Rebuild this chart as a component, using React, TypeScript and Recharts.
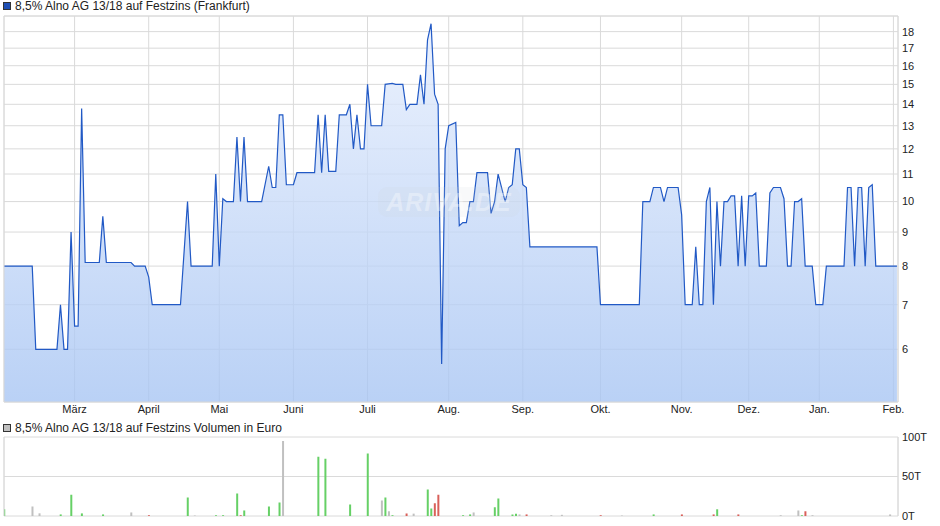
import React from "react";
import {
  Area,
  Bar,
  CartesianGrid,
  Cell,
  ComposedChart,
  ReferenceLine,
  XAxis,
  YAxis,
} from "recharts";

// trading-day index of each month start (Feb .. Feb)
const monthTicks = [20, 41, 61, 82, 103, 126, 147, 169, 192, 211, 231, 252];
const monthLabels = ["März", "April", "Mai", "Juni", "Juli", "Aug.", "Sep.", "Okt.", "Nov.", "Dez.", "Jan.", "Feb."];

const priceTicks = [6, 7, 8, 9, 10, 11, 12, 13, 14, 15, 16, 17, 18];

// price path: trading-day index and quote
const priceT = [
  0, 8, 9, 15, 16, 17, 18, 19, 20, 21, 22, 23, 27, 28, 29, 36, 37, 40, 41, 42, 50, 52, 53, 59, 60, 61, 62, 63, 65,
  66, 67, 68, 69, 73, 75, 76, 77, 78, 79, 80, 82, 83, 88, 89, 90, 91, 92, 94, 95, 97, 98, 99, 100, 101, 102, 103,
  104, 107, 108, 110, 111, 113, 114, 115, 117, 118, 119, 120, 121, 122, 123, 124, 125, 126, 128, 129, 130, 131,
  132, 133, 134, 137, 138, 139, 140, 142, 143, 144, 145, 146, 147, 148, 149, 168, 169, 180, 181, 183, 184, 186,
  187, 188, 191, 192, 193, 195, 196, 197, 198, 199, 200, 201, 202, 203, 204, 205, 206, 207, 208, 209, 210, 211,
  212, 213, 214, 216, 217, 218, 220, 221, 222, 223, 224, 225, 226, 227, 229, 230, 232, 233, 238, 239, 240, 241,
  242, 243, 244, 245, 246, 247, 253,
];
const priceV = [
  8.0, 8.0, 6.0, 6.0, 7.0, 6.0, 6.0, 9.0, 6.5, 6.5, 13.8, 8.1, 8.1, 9.5, 8.1, 8.1, 8.0, 8.0, 7.7, 7.0, 7.0, 10.0,
  8.0, 8.0, 11.0, 8.0, 10.1, 10.0, 10.0, 12.5, 10.0, 12.5, 10.0, 10.0, 11.3, 10.5, 10.5, 13.5, 13.5, 10.6, 10.6,
  11.05, 11.05, 13.5, 11.05, 13.5, 11.1, 11.1, 13.5, 13.5, 14.0, 12.0, 13.5, 12.0, 12.0, 15.0, 13.0, 13.0, 15.0,
  15.05, 15.0, 15.0, 13.75, 14.0, 14.0, 15.5, 14.0, 17.5, 18.5, 14.5, 14.0, 5.7, 12.0, 13.0, 13.15, 9.2, 9.3, 9.3,
  10.0, 10.0, 11.05, 11.05, 9.6, 10.0, 11.0, 10.0, 10.5, 10.6, 12.0, 12.0, 10.6, 10.5, 8.55, 8.55, 7.0, 7.0, 10.0,
  10.0, 10.5, 10.5, 10.0, 10.5, 10.5, 9.55, 7.0, 7.0, 8.55, 7.0, 7.0, 10.0, 10.5, 7.0, 10.0, 8.0, 10.0, 10.0, 10.2,
  10.2, 8.0, 10.2, 8.0, 10.2, 10.2, 10.3, 8.0, 8.0, 10.3, 10.5, 10.5, 10.1, 8.0, 8.0, 10.0, 10.0, 10.1, 8.0, 8.0,
  7.0, 7.0, 8.0, 8.0, 10.5, 10.5, 8.0, 10.5, 10.5, 8.0, 10.5, 10.6, 8.0, 8.0,
];

// volume in thousand euro; kind: 1 up, -1 down, 0 unchanged
const volT = [
  0, 8, 10, 16, 19, 22, 28, 36, 41, 52, 54, 60, 62, 66, 67, 68, 75, 78, 79, 89, 91, 98, 103, 107, 108, 109, 110,
  114, 116, 120, 121, 122, 123, 130, 132, 133, 139, 140, 144, 145, 146, 148, 155, 158, 169, 175, 184, 192, 201,
  202, 208, 220, 225, 226, 227, 229, 251,
];
const volV = [
  8.4, 12, 3.4, 2, 27, 3.3, 2, 4.5, 1, 23.5, 0.6, 1, 1, 28.5, 1, 7, 12, 17, 95, 75, 72.5, 14.5, 79, 19.5, 23.5, 6,
  1, 3.2, 3, 33.5, 9.5, 16, 27, 1, 2, 4.5, 11, 22, 2, 3, 2, 2, 1, 1.5, 1, 0.6, 2, 2, 2, 8.5, 2, 1, 7, 1, 6, 1, 2,
];
const volKind = [
  1, 0, 0, 1, 1, 1, 1, 0, -1, 1, 0, 1, 1, 1, -1, 1, 1, 1, 0, 1, 1, 1, 1, 0, 1, 0, 1, -1, 0, 1, 1, -1, -1, 1, 1, 0,
  1, 1, 1, 1, 0, -1, 0, 0, -1, 0, 1, -1, -1, 1, -1, 0, 0, 1, -1, 0, 0,
];
const volTicks = [0, 50, 100];

const priceData = priceT.map((t, i) => ({ t, price: priceV[i] }));
const volData = volT.map((t, i) => ({ t, vol: volV[i], kind: volKind[i] }));

const kindColor = (k: number) => (k > 0 ? "#66d066" : k < 0 ? "#d9605a" : "#c0c0c0");
const grid = "#dadada";
const tickStyle = { fill: "#222", fontSize: 11, fontFamily: "Liberation Sans, Arial, sans-serif" };
const xDomain: [number, number] = [0, 253.3];

function Legend({ color, text, top }: { color: string; text: string; top: number }) {
  return (
    <div
      style={{
        position: "absolute",
        left: 3,
        top,
        display: "flex",
        alignItems: "center",
        fontFamily: "Liberation Sans, Arial, sans-serif",
        fontSize: 12,
        color: "#222",
        whiteSpace: "nowrap",
      }}
    >
      <span
        style={{
          display: "inline-block",
          width: 6,
          height: 6,
          background: color,
          border: "1px solid #333",
          marginRight: 4,
        }}
      />
      {text}
    </div>
  );
}

export default function App() {
  return (
    <div style={{ position: "absolute", left: 0, top: 0, width: 940, height: 526, background: "#fff" }}>
      <Legend color="#1f4fb4" text="8,5% Alno AG 13/18 auf Festzins (Frankfurt)" top={-1} />
      <div style={{ position: "absolute", left: 0, top: 0 }}>
        <ComposedChart width={940} height={420} data={priceData} margin={{ top: 16, right: 0, left: 4, bottom: 0 }}>
          <defs>
            <linearGradient id="priceFill" x1="0" y1="0" x2="0" y2="1">
              <stop offset="0%" stopColor="#e6eefd" />
              <stop offset="100%" stopColor="#a6c4f3" />
            </linearGradient>
          </defs>
          <CartesianGrid stroke={grid} />
          <XAxis
            dataKey="t"
            type="number"
            domain={xDomain}
            allowDataOverflow
            ticks={monthTicks}
            interval={0}
            tickFormatter={(v) => monthLabels[monthTicks.indexOf(v)] ?? ""}
            tick={tickStyle}
            tickLine={false}
            tickSize={3}
            tickMargin={0}
            height={18}
            axisLine={{ stroke: grid }}
          />
          <YAxis
            orientation="right"
            scale="log"
            domain={[5, 19]}
            allowDataOverflow
            ticks={priceTicks}
            interval={0}
            tick={tickStyle}
            tickLine={false}
            tickSize={2}
            tickMargin={2}
            width={42}
            axisLine={{ stroke: grid }}
          />
          <ReferenceLine x={0} stroke={grid} />
          <ReferenceLine y={19} stroke={grid} />
          <Area
            type="linear"
            dataKey="price"
            stroke="#2159c5"
            strokeWidth={1.2}
            fill="url(#priceFill)"
            fillOpacity={0.78}
            baseValue={5}
            isAnimationActive={false}
          />
        </ComposedChart>
      </div>
      <div
        style={{
          position: "absolute",
          left: 378,
          top: 187,
          width: 142,
          height: 30,
          borderRadius: 9,
          background: "rgba(205,210,222,0.14)",
          color: "rgba(255,255,255,0.35)",
          fontFamily: "Liberation Sans, Arial, sans-serif",
          fontStyle: "italic",
          fontWeight: "bold",
          fontSize: 25,
          lineHeight: "30px",
          textAlign: "center",
          letterSpacing: 1,
        }}
      >
        ARIVA.DE
      </div>
      <Legend color="#c0c0c0" text="8,5% Alno AG 13/18 auf Festzins Volumen in Euro" top={421} />
      <div style={{ position: "absolute", left: 0, top: 420 }}>
        <ComposedChart width={940} height={106} data={volData} margin={{ top: 17, right: 0, left: 4, bottom: 0 }}>
          <CartesianGrid stroke={grid} />
          <XAxis
            dataKey="t"
            type="number"
            domain={xDomain}
            allowDataOverflow
            ticks={monthTicks}
            interval={0}
            tick={false}
            tickLine={false}
            axisLine={false}
            height={10}
          />
          <YAxis
            orientation="right"
            domain={[0, 100]}
            ticks={volTicks}
            interval={0}
            tickFormatter={(v) => `${v}T`}
            tick={tickStyle}
            tickLine={false}
            tickSize={2}
            tickMargin={2}
            width={42}
            axisLine={{ stroke: grid }}
          />
          <ReferenceLine x={0} stroke={grid} />
          <Bar dataKey="vol" barSize={2} isAnimationActive={false}>
            {volData.map((d, i) => (
              <Cell key={i} fill={kindColor(d.kind)} />
            ))}
          </Bar>
        </ComposedChart>
      </div>
    </div>
  );
}
